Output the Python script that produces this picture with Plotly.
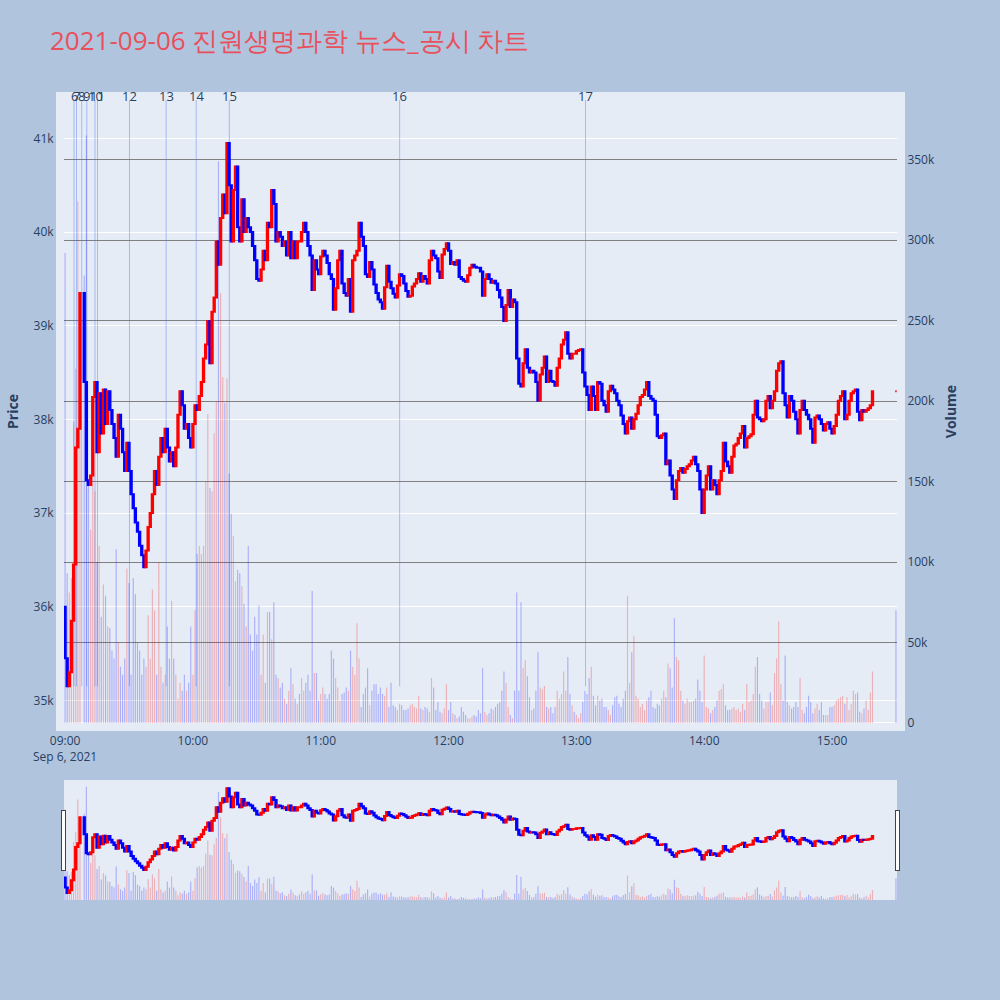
import datetime as dt
import plotly.graph_objects as go

TITLE = "2021-09-06 진원생명과학 뉴스_공시 차트"
session_date = "2021-09-06"
session_start = "09:00"
first_open = 36000

# one close per minute from 09:00 (None = no trade that minute)
close_prices = [
    35450, 35150, 35300, 35850, 36450, 37700, 37900, 39350, None, 38400,
    37350, 37300, 37400, 38240, 38400, 37650, 38280, 37850, 38320, 37950,
    38300, 38100, 37950, 37800, 37600, 38050, 37900, 37650, 37450, 37750,
    37450, 37200, 37050, 36900, 36800, 36650, 36550, 36420, 36600, 36850,
    37000, 37200, 37450, 37300, 37600, 37800, 37650, 37900, 37700, 37550,
    37650, 37500, 37700, 38050, 38300, 38150, 37900, 37950, 37800, 37700,
    37950, 38150, 38100, 38250, 38400, 38650, 38800, 39050, 38600, 39150,
    39300, 39900, 39650, 40150, 40400, 40200, 40950, 40500, 39900, 40450,
    40700, 40050, 39900, 40350, 40000, 40150, 40050, 40000, 39850, 39700,
    39500, 39480, 39600, 39800, 39700, 40100, 40050, 40450, 40300, 39900,
    40000, 39950, 39850, 39900, 39750, 40000, 39720, 39900, 39720, 39900,
    39900, 40000, 40100, 40000, 39850, 39750, 39380, 39700, 39600, 39550,
    39740, 39800, 39750, 39670, 39550, 39500, 39170, 39400, 39700, 39800,
    39450, 39350, 39320, 39500, 39150, 39700, 39750, 39800, 40100, 39950,
    39850, 39550, 39520, 39680, 39600, 39440, 39350, 39280, 39250, 39180,
    39410, 39640, 39470, 39400, 39340, 39300, 39430, 39550, 39530, 39450,
    39370, 39310, 39320, 39420, 39450, 39500, 39560, 39470, 39530, 39500,
    39450, 39700, 39800, 39750, 39720, 39580, 39510, 39760, 39820, 39880,
    39800, 39660, 39680, 39650, 39700, 39520, 39500, 39480, 39470, 39540,
    39620, 39650, 39630, 39620, 39620, 39580, 39320, 39500, 39550, 39500,
    39460, 39480, 39450, 39380, 39300, 39200, 39050, 39220, 39380, 39200,
    39280, 39250, 38650, 38380, 38350, 38600, 38750, 38550, 38500, 38520,
    38500, 38400, 38200, 38480, 38550, 38670, 38400, 38520, 38410, 38400,
    38360, 38550, 38650, 38800, 38850, 38930, 38700, 38650, 38700, 38700,
    38730, 38740, 38750, 38500, 38350, 38260, 38100, 38350, 38250, 38100,
    38400, 38380, 38200, 38150, 38080, 38300, 38360, 38320, 38280, 38200,
    38150, 38040, 37950, 37850, 37980, 38020, 37900, 38000, 38060, 38150,
    38240, 38260, 38320, 38400, 38250, 38220, 38200, 38050, 37820, 37800,
    37830, 37850, 37520, 37560, 37400, 37250, 37150, 37350, 37450, 37480,
    37430, 37470, 37500, 37520, 37560, 37600, 37520, 37450, 37250, 37000,
    37250, 37400, 37500, 37250, 37350, 37300, 37200, 37350, 37450, 37750,
    37550, 37500, 37430, 37600, 37720, 37740, 37800, 37850, 37930, 37700,
    37800, 37820, 37840, 38050, 38200, 38020, 38000, 37980, 38000, 38200,
    38250, 38120, 38200, 38300, 38520, 38600, 38620, 38280, 38150, 38020,
    38250, 38200, 38080, 38000, 37850, 38100, 38200, 38100, 38050, 38000,
    37900, 37750, 38020, 38040, 38000, 37950, 37880, 37950, 37970, 37900,
    37850, 37930, 38050, 38200, 38250, 38300, 38000, 38050, 38200, 38280,
    38300, 38320, 38080, 37990, 38100, 38080, 38100, 38120, 38150, 38300,
]

# traded volume per minute, thousands of shares
volume_k = [
    292, 93, 81, 90, 187, 220, 324, 260, None, 278,
    365, 150, 120, 200, 144, 100, 110, 66, 86, 79,
    60, 59, 45, 40, 108, 50, 35, 30, 40, 96,
    87, 30, 90, 80, 50, 45, 30, 40, 35, 67,
    40, 83, 70, 30, 100, 35, 25, 30, 60, 40,
    76, 40, 30, 15, 25, 20, 30, 20, 25, 60,
    30, 70, 105, 110, 105, 110, 150, 192, 146, 144,
    180, 200, 349, 267, 215, 199, 214, 155, 130, 116,
    88, 95, 93, 85, 74, 60, 110, 55, 45, 66,
    55, 73, 30, 55, 25, 69, 69, 52, 75, 30,
    28, 22, 25, 15, 12, 20, 34, 24, 15, 12,
    18, 28, 20, 25, 30, 20, 82, 31, 31, 14,
    18, 22, 18, 15, 18, 45, 40, 28, 22, 14,
    18, 19, 22, 20, 45, 35, 30, 62, 40, 10,
    18, 22, 34, 11, 20, 24, 24, 18, 22, 18,
    17, 22, 10, 25, 11, 10, 8, 12, 11, 8,
    8, 9, 11, 12, 10, 9, 17, 9, 8, 10,
    9, 7, 28, 22, 8, 13, 7, 6, 9, 24,
    8, 13, 6, 5, 3, 4, 10, 7, 5, 3,
    3, 4, 5, 4, 8, 6, 34, 7, 5, 6,
    9, 8, 10, 12, 13, 20, 32, 25, 10, 5,
    3, 20, 81, 20, 75, 34, 39, 29, 16, 8,
    9, 20, 44, 22, 21, 23, 10, 9, 10, 6,
    10, 20, 15, 18, 32, 20, 41, 18, 11, 7,
    5, 3, 6, 13, 20, 18, 28, 35, 17, 11,
    17, 14, 15, 10, 10, 8, 5, 11, 16, 17,
    12, 10, 15, 20, 79, 25, 44, 54, 17, 15,
    10, 12, 8, 14, 16, 20, 10, 9, 12, 11,
    15, 20, 16, 37, 34, 22, 65, 41, 39, 20,
    14, 12, 15, 13, 13, 14, 15, 27, 20, 13,
    42, 10, 9, 6, 8, 10, 14, 20, 21, 24,
    11, 8, 8, 9, 10, 8, 9, 7, 12, 8,
    24, 13, 14, 18, 35, 41, 18, 14, 9, 13,
    13, 19, 11, 31, 40, 63, 24, 14, 42, 13,
    11, 9, 10, 13, 10, 28, 8, 6, 10, 17,
    13, 6, 9, 12, 8, 13, 5, 5, 5, 10,
    10, 11, 14, 15, 16, 17, 12, 16, 8, 12,
    20, 18, 19, 7, 6, 9, 14, 8, 19, 32,
]

# closing single-price auction
auction_time = "15:30"
auction_price = 38300
auction_volume_k = 70

# news / disclosure markers
news_labels = ["6", "7", "8", "9", "10", "11", "12", "13", "14", "15", "16", "17"]
news_times = ["09:04:13", "09:05:23", "09:07:50", "09:10:12", "09:14:04", "09:15:14",
              "09:30:14", "09:47:26", "10:01:33", "10:17:06", "11:37:03", "13:04:18"]

# ---------------------------------------------------------------------------
t0 = dt.datetime.fromisoformat(f"{session_date} {session_start}")
times, opens, highs, lows, closes, vols = [], [], [], [], [], []
prev = first_open
for i, (c, v) in enumerate(zip(close_prices, volume_k)):
    if c is None:
        continue
    o = prev
    times.append(t0 + dt.timedelta(minutes=i))
    opens.append(o)
    closes.append(c)
    highs.append(max(o, c))
    lows.append(min(o, c))
    vols.append(v * 1000)
    prev = c
times.append(dt.datetime.fromisoformat(f"{session_date} {auction_time}"))
opens.append(auction_price)
closes.append(auction_price)
highs.append(auction_price)
lows.append(auction_price)
vols.append(auction_volume_k * 1000)

vol_colors = ["rgba(255,0,0,0.25)" if c > o else "rgba(0,0,255,0.25)"
              for o, c in zip(opens, closes)]

price_range = [34758, 41410]
volume_range = [0, 387000]
x_range = [f"{session_date} 08:59:30", f"{session_date} 15:30:30"]

fig = go.Figure()
fig.add_trace(go.Candlestick(
    x=times, open=opens, high=highs, low=lows, close=closes,
    increasing=dict(line=dict(color="red", width=2), fillcolor="red"),
    decreasing=dict(line=dict(color="blue", width=2), fillcolor="blue"),
    yaxis="y", showlegend=False, name="Price"))
fig.add_trace(go.Bar(
    x=times, y=vols, marker=dict(color=vol_colors, line=dict(width=0)),
    yaxis="y2", showlegend=False, name="Volume"))

low_of_day = min(lows)
for lab, t in zip(news_labels, news_times):
    tx = f"{session_date} {t}"
    fig.add_shape(type="line", xref="x", yref="y", x0=tx, x1=tx,
                  y0=low_of_day, y1=price_range[1], layer="between",
                  line=dict(color="rgba(70,110,240,0.4)", width=1))
    fig.add_annotation(x=tx, y=1, xref="x", yref="paper", text=lab,
                       showarrow=False, yanchor="middle", yshift=4,
                       font=dict(size=13, color="#2a3f5f"))

frame = dict(showline=True, mirror=True, linewidth=8, linecolor="#e5ecf6",
             layer="below traces")

fig.update_layout(
    width=1000, height=1000,
    paper_bgcolor="lightsteelblue",
    plot_bgcolor="#e5ecf6",
    margin=dict(l=64, r=103, t=100, b=100),
    title=dict(text=TITLE, x=0.05, xref="container", xanchor="left",
               y=0.959, yref="container", yanchor="middle",
               font=dict(size=26, color="#e8505b")),
    font=dict(color="#2a3f5f"),
    bargap=0.45,
    boxgap=0.1,
    xaxis=dict(type="date", range=x_range, showgrid=False, **frame,
               rangeslider=dict(visible=True, thickness=0.15, bgcolor="#e5ecf6")),
    yaxis=dict(title=dict(text="<b>Price</b>", font=dict(size=14)),
               range=price_range, gridcolor="white", zeroline=False,
               automargin=False, **frame),
    yaxis2=dict(title=dict(text="<b>Volume</b>", font=dict(size=14)),
                overlaying="y", side="right", range=volume_range, dtick=50000,
                automargin=False, **frame,
                showgrid=True, gridcolor="gray", zeroline=True,
                zerolinecolor="white", zerolinewidth=2),
)

fig.write_html("out.html", config={"displayModeBar": False},
               post_script="document.body.style.margin='0';")
